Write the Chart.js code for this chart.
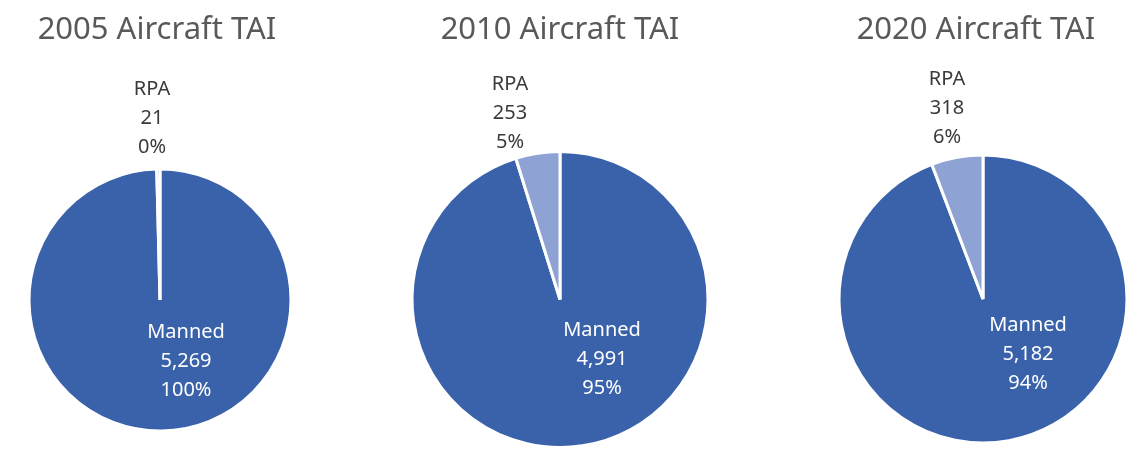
<!DOCTYPE html>
<html>
<head>
<meta charset="utf-8">
<script src="https://cdn.jsdelivr.net/npm/chart.js@4.4.1/dist/chart.umd.min.js"></script>
<style>
  html, body { margin: 0; padding: 0; background: #ffffff; overflow: hidden; width: 1147px; height: 464px; }
  .box { position: absolute; }
</style>
</head>
<body>
<div class="box" id="b0"><canvas id="c0"></canvas></div>
<div class="box" id="b1"><canvas id="c1"></canvas></div>
<div class="box" id="b2"><canvas id="c2"></canvas></div>
<script>
// ---- data ----
const titles = ["2005 Aircraft TAI", "2010 Aircraft TAI", "2020 Aircraft TAI"];
const categories = ["Manned", "RPA"];
const manned = [5269, 4991, 5182];
const rpa = [21, 253, 318];
const percentLabels = [["100%", "0%"], ["95%", "5%"], ["94%", "6%"]];

// ---- layout / style (not data) ----
const colors = ["#3A62AA", "#8EA2D3"];
const pies = [
  { cx: 160, cy: 300, r: 131, titleDx: -3, labels: [{dx: 26, dy: 61}, {dx: -8, dy: -182}] },
  { cx: 560, cy: 299.5, r: 148, titleDx: 0, labels: [{dx: 42, dy: 59.5}, {dx: -50, dy: -186.5}] },
  { cx: 983, cy: 299, r: 144, titleDx: -7, labels: [{dx: 45, dy: 55}, {dx: -36, dy: -191}] }
];
const labelColors = ["#ffffff", "#3a3a3a"];
const FONT = "'Noto Sans', 'Open Sans', sans-serif";

function fmt(n) { return n.toLocaleString('en-US'); }

const labelPlugin = {
  id: 'pieLabels',
  afterDatasetsDraw(chart, args, opts) {
    const ctx = chart.ctx;
    const meta = chart.getDatasetMeta(0);
    const arc0 = meta.data[0];
    const cx = arc0.x, cy = arc0.y;
    const ds = chart.data.datasets[0];
    ctx.save();
    // title
    ctx.font = "31px " + FONT;
    ctx.fillStyle = "#595959";
    ctx.textAlign = "center";
    ctx.textBaseline = "alphabetic";
    ctx.fillText(opts.title, cx + opts.titleDx, 39);
    // slice labels
    ctx.font = "20px " + FONT;
    ctx.textBaseline = "middle";
    meta.data.forEach((arc, i) => {
      const p = opts.labels[i];
      const lines = [chart.data.labels[i], fmt(ds.data[i]), opts.pct[i]];
      ctx.fillStyle = labelColors[i];
      lines.forEach((t, k) => {
        ctx.fillText(t, cx + p.dx, cy + p.dy + (k - 1) * 29);
      });
    });
    ctx.restore();
  }
};

pies.forEach((p, i) => {
  const half = p.r + 90;
  const box = document.getElementById('b' + i);
  box.style.left = (p.cx - half) + 'px';
  box.style.top = '0px';
  box.style.width = (2 * half) + 'px';
  box.style.height = (2 * p.cy) + 'px';
  new Chart(document.getElementById('c' + i), {
    type: 'pie',
    data: {
      labels: categories,
      datasets: [{
        data: [manned[i], rpa[i]],
        backgroundColor: colors,
        borderColor: '#ffffff',
        borderWidth: 3
      }]
    },
    options: {
      responsive: true,
      maintainAspectRatio: false,
      animation: false,
      radius: p.r,
      rotation: 0,
      layout: { padding: 0 },
      plugins: {
        legend: { display: false },
        tooltip: { enabled: false },
        title: { display: false },
        pieLabels: { title: titles[i], titleDx: p.titleDx, labels: p.labels, pct: percentLabels[i] }
      }
    },
    plugins: [labelPlugin]
  });
});
</script>
</body>
</html>
